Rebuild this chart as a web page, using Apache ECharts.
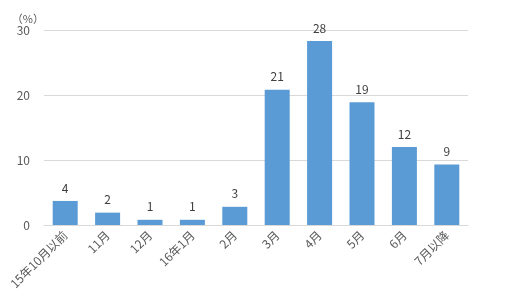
<!DOCTYPE html>
<html>
<head>
<meta charset="utf-8">
<script src="https://cdn.jsdelivr.net/npm/echarts@6/dist/echarts.min.js"></script>
<style>
  html, body { margin: 0; padding: 0; background: #fff; }
  #chart { width: 505px; height: 307px; }
</style>
</head>
<body>
<div id="chart"></div>
<script>
const categories = ['15年10月以前', '11月', '12月', '16年1月', '2月', '3月', '4月', '5月', '6月', '7月以降']
const values = [3.7, 1.9, 0.8, 0.8, 2.8, 20.8, 28.3, 18.9, 12.0, 9.3]
const yTicks = [0, 10, 20, 30]

const font = '"Noto Sans CJK JP", "Noto Sans", sans-serif'
const chart = echarts.init(document.getElementById('chart'))
chart.setOption({
  animation: false,
  textStyle: { fontFamily: font },
  grid: { left: 44, right: 37, top: 30, bottom: 82 },
  xAxis: {
    type: 'category',
    data: categories,
    axisLine: { lineStyle: { color: '#d9d9d9' } },
    axisTick: { show: false },
    axisLabel: { rotate: 45, fontSize: 12, color: '#595959', margin: 8, interval: 0, fontFamily: font }
  },
  yAxis: {
    type: 'value',
    min: yTicks[0],
    max: yTicks[yTicks.length - 1],
    interval: 10,
    name: '（%）',
    nameLocation: 'end',
    nameGap: 5,
    nameTextStyle: { fontSize: 11, color: '#595959', align: 'right', padding: [0, 0, 0, 0] },
    axisLine: { show: false },
    axisTick: { show: false },
    axisLabel: { fontSize: 12, color: '#595959', margin: 14 },
    splitLine: { lineStyle: { color: '#d9d9d9' } }
  },
  series: [{
    type: 'bar',
    data: values,
    barWidth: '59%',
    itemStyle: { color: '#5b9bd5' },
    label: {
      show: true,
      position: 'top',
      distance: 7,
      fontSize: 12,
      color: '#404040',
      formatter: p => Math.round(p.value)
    }
  }]
})
</script>
</body>
</html>
